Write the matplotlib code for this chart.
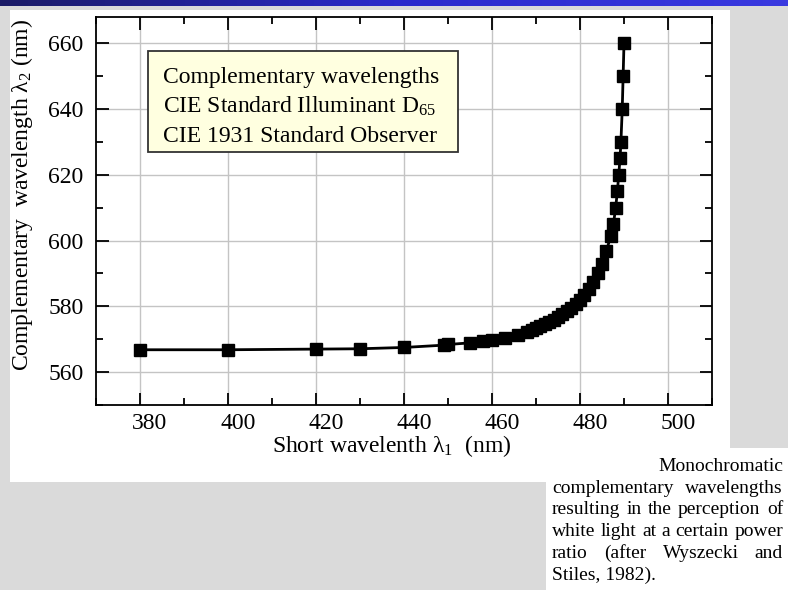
import matplotlib
matplotlib.use("Agg")
import matplotlib.pyplot as plt
import matplotlib.transforms as mtransforms
from matplotlib.patches import Rectangle
from matplotlib.colors import LinearSegmentedColormap
import numpy as np

# short wavelength lambda_1 (nm)
lam1 = [380, 400, 420, 430, 440, 449, 450, 455, 458, 460, 463, 466,
        468, 469, 470, 471, 472, 473, 474, 475, 476, 477, 478, 479,
        480, 481, 482, 483, 484, 485, 486, 487, 487.6, 488.1, 488.5,
        488.8, 489.1, 489.3, 489.6, 489.8, 490.0]
# complementary wavelength lambda_2 (nm)
lam2 = [566.8, 566.8, 567.0, 567.1, 567.5, 568.2, 568.4, 568.9, 569.4, 569.8, 570.5, 571.4,
        572.3, 572.8, 573.3, 573.9, 574.5, 575.2, 575.9, 576.7, 577.6, 578.6, 579.6, 580.7,
        582.0, 583.5, 585.3, 587.4, 590.0, 593.0, 596.8, 601.5, 605, 610, 615,
        620, 625, 630, 640, 650, 660]

box_lines = ["Complementary wavelengths",
             "CIE Standard Illuminant D$_{65}$",
             "CIE 1931 Standard Observer"]
caption = ["Monochromatic",
           "complementary wavelengths",
           "resulting in the perception of",
           "white light at a certain power",
           "ratio (after Wyszecki and",
           "Stiles, 1982)."]

plt.rcParams['font.family'] = ['Liberation Serif', 'DejaVu Serif']
plt.rcParams['mathtext.fontset'] = 'custom'
plt.rcParams['mathtext.rm'] = 'Liberation Serif'
plt.rcParams['mathtext.it'] = 'Liberation Serif:italic'
plt.rcParams['mathtext.default'] = 'regular'

W, H = 788, 590
fig = plt.figure(figsize=(W / 100, H / 100), dpi=100, facecolor='#dadada')


def fx(x):
    return x / W


def fy(y):
    return 1 - y / H


def rect(x0, y0, x1, y1, **kw):
    fig.add_artist(Rectangle((fx(x0), fy(y1)), fx(x1 - x0), (y1 - y0) / H,
                             transform=fig.transFigure, **kw))


# white panels behind the chart and the caption
rect(10, 10, 730, 482, facecolor='white', edgecolor='none', zorder=-2)
rect(546, 448, 788, 590, facecolor='white', edgecolor='none', zorder=-2)

# blue title strip along the top
bar = fig.add_axes([0, fy(6), 1, 6 / H])
cmap = LinearSegmentedColormap.from_list('bar', ['#1b1b66', '#2a2acc', '#3a3ae0'])
bar.imshow(np.linspace(0, 1, 256)[None, :], aspect='auto', cmap=cmap)
bar.set_axis_off()

ax = fig.add_axes([fx(96), fy(405), fx(712 - 96), (405 - 17) / H])
ax.plot(lam1, lam2, color='black', lw=2, marker='s', ms=8, mec='black', mfc='black', zorder=3)

ax.set_xlim(370, 510)
ax.set_ylim(550, 668)
ax.set_xticks(np.arange(380, 501, 20))
ax.set_xticks(np.arange(370, 511, 10), minor=True)
ax.set_yticks(np.arange(560, 661, 20))
ax.set_yticks(np.arange(550, 668, 10), minor=True)
ax.grid(True, which='major', color='#c4c4c4', lw=1)
ax.tick_params(which='both', direction='in', top=True, right=True, width=1.3, labelsize=17)
ax.tick_params(which='major', length=9)
ax.tick_params(which='minor', length=5)
ax.tick_params(axis='x', pad=6)
ax.tick_params(axis='y', pad=9)
for s in ax.spines.values():
    s.set_linewidth(1.3)

# tick labels in the original sit a little right of their ticks
shift = mtransforms.ScaledTranslation(10 / 100, 0, fig.dpi_scale_trans)
for lab in ax.get_xticklabels():
    lab.set_transform(lab.get_transform() + shift)

fig.text(fx(392), fy(452), "Short wavelenth λ$_1$  (nm)", fontsize=17, ha='center', va='baseline')
fig.text(fx(22), fy(195), "Complementary  wavelength λ$_2$ (nm)", fontsize=17,
         rotation=90, ha='center', va='center')

# annotation box
rect(148, 51, 458, 152, facecolor='#ffffe0', edgecolor='#333333', lw=1.3, zorder=5)
for i, s in enumerate(box_lines):
    fig.text(fx(163), fy(83 + 29.5 * i), s, fontsize=17, ha='left', va='baseline', zorder=6)

# justified caption
renderer = fig.canvas.get_renderer()
x0, x1 = 552, 783
for i, line in enumerate(caption):
    yb = fy(471 + 21.7 * i)
    words = line.split()
    if i == 0:
        fig.text(fx(x1), yb, line, fontsize=14, ha='right', va='baseline')
        continue
    if i == len(caption) - 1:
        fig.text(fx(x0), yb, line, fontsize=14, ha='left', va='baseline')
        continue
    widths = []
    for w in words:
        t = fig.text(0, 0, w, fontsize=14)
        widths.append(t.get_window_extent(renderer).width)
        t.remove()
    gap = (x1 - x0 - sum(widths)) / (len(words) - 1)
    x = x0
    for w, wd in zip(words, widths):
        fig.text(fx(x), yb, w, fontsize=14, ha='left', va='baseline')
        x += wd + gap

fig.savefig('out.png', dpi=100, facecolor=fig.get_facecolor())
